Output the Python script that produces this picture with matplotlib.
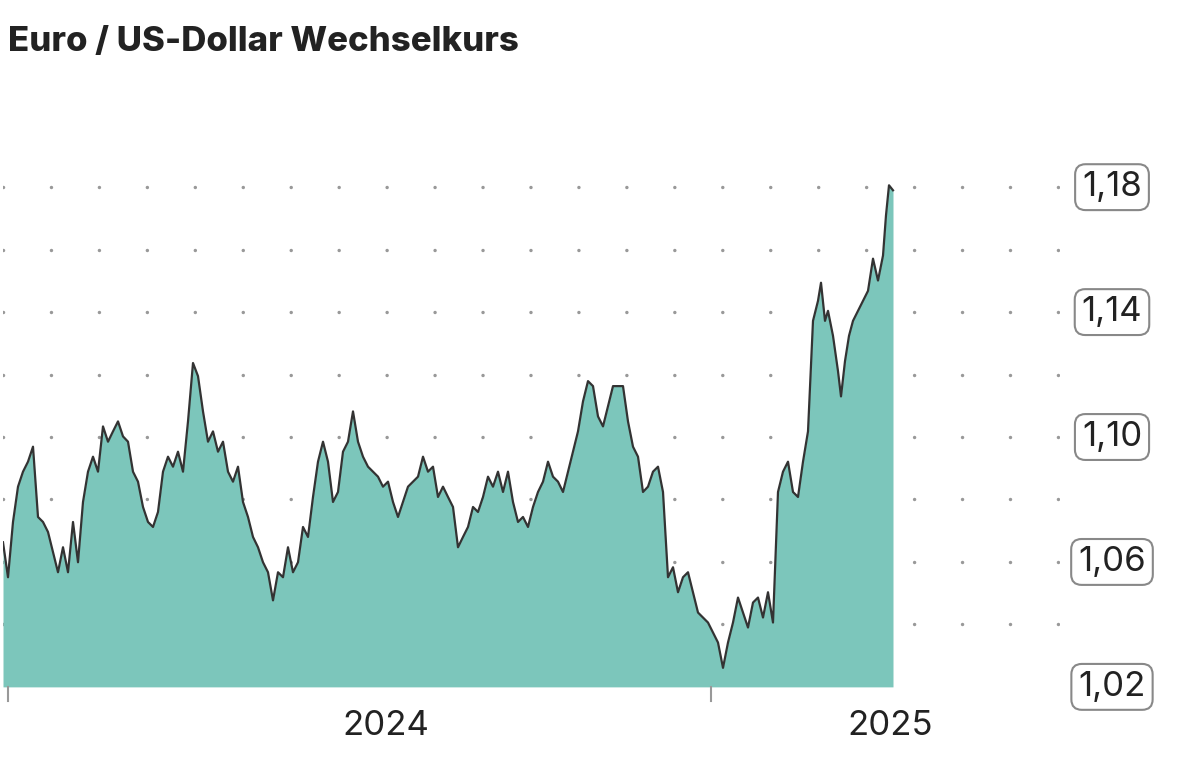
import matplotlib.pyplot as plt

plt.rcParams['font.family'] = ['Inter', 'DejaVu Sans']

# day index along the x axis and EUR/USD rate
days = [0, 5, 10, 15, 20, 25, 30, 35, 40, 45, 50, 55, 60, 65, 70, 75, 80, 85, 90, 95,
        100, 105, 110, 115, 120, 125, 130, 135, 140, 145, 150, 155, 160, 165, 170, 175, 180, 185, 190, 195,
        200, 205, 210, 215, 220, 225, 230, 235, 240, 245, 250, 255, 260, 265, 270, 275, 280, 285, 290, 295,
        300, 305, 310, 315, 320, 325, 330, 335, 340, 345, 350, 355, 360, 365, 370, 375, 380, 385, 390, 395,
        400, 405, 410, 415, 420, 425, 430, 435, 440, 445, 450, 455, 460, 465, 470, 475, 480, 485, 490, 495,
        500, 505, 510, 515, 520, 525, 530, 535, 540, 545, 550, 555, 560, 565, 570, 575, 580, 585, 590, 595,
        600, 605, 610, 615, 620, 625, 630, 635, 640, 645, 650, 655, 660, 665, 670, 675, 680, 685, 690, 695,
        700, 705, 710, 715, 720, 725, 730, 735, 740, 745, 750, 755, 760, 765, 770, 775, 780, 785, 790, 795,
        800, 805, 810, 815, 818, 822, 825, 830, 835, 838, 842, 846, 850, 855, 860, 865, 870, 875, 880, 883,
        886, 890]
ypix = [540, 575, 520, 485, 470, 460, 445, 515, 520, 530, 550, 570, 545, 570, 520, 560, 500, 470, 455, 470,
        425, 440, 430, 420, 435, 440, 470, 480, 505, 520, 525, 510, 470, 455, 465, 450, 470, 420, 362, 375,
        410, 440, 430, 450, 440, 470, 480, 465, 500, 515, 535, 545, 560, 570, 598, 570, 575, 545, 570, 560,
        525, 535, 495, 460, 440, 460, 500, 490, 450, 440, 410, 440, 455, 465, 470, 475, 485, 480, 500, 515,
        500, 485, 480, 475, 455, 470, 465, 495, 485, 495, 505, 545, 535, 525, 505, 510, 495, 475, 485, 470,
        490, 470, 500, 520, 515, 525, 505, 490, 480, 460, 475, 480, 490, 470, 450, 430, 400, 380, 385, 415,
        425, 405, 385, 385, 385, 420, 445, 455, 490, 485, 470, 465, 490, 575, 565, 590, 575, 570, 590, 610,
        615, 620, 630, 640, 665, 640, 620, 595, 610, 625, 600, 595, 615, 590, 620, 490, 470, 460, 490, 495,
        460, 430, 320, 300, 282, 320, 310, 335, 370, 395, 360, 335, 320, 310, 300, 290, 258, 280, 255, 215,
        185, 190]
rate = [round(1.18 - (p - 187) / 3106, 4) for p in ypix]

grid_levels = [1.04, 1.06, 1.08, 1.10, 1.12, 1.14, 1.16, 1.18]
label_levels = [1.02, 1.06, 1.10, 1.14, 1.18]
year_ticks = [5, 708]
year_labels = [(383, '2024'), (887, '2025')]

fig = plt.figure(figsize=(12, 7.65), dpi=100)
ax = fig.add_axes([3 / 1200, 75 / 765, 1057 / 1200, 550 / 765])
ax.set_xlim(0, 1057)
ax.set_ylim(1.0190, 1.1951)
ax.axis('off')

ax.hlines(grid_levels, 0, 1057, colors='#999999', linewidth=2.5,
          linestyles=(0, (0.01, 13.8)), capstyle='round', zorder=1)
ax.fill_between(days, rate, 1.02, color='#7cc6bb', zorder=2, linewidth=0)
ax.plot(days, rate, color='#333333', linewidth=1.6, zorder=3)

for t in year_ticks:
    ax.plot([t, t], [1.02, 1.0155], color='#999999', linewidth=1.5, clip_on=False)
for x, lab in year_labels:
    ax.text(x, 1.0125, lab, ha='center', va='top', fontsize=25, color='#222222', clip_on=False)

for v in label_levels:
    ax.text(1109, v, f'{v:.2f}'.replace('.', ','), ha='center', va='center', fontsize=25,
            color='#222222', clip_on=False,
            bbox=dict(boxstyle='round,pad=0.2,rounding_size=0.3', fc='white', ec='#888888', lw=1.5))

fig.text(8 / 1200, 1 - 42 / 765, 'Euro / US-Dollar Wechselkurs', fontsize=25, fontweight='heavy',
         color='#222222', va='center', ha='left')

fig.savefig('out.png', dpi=100)
